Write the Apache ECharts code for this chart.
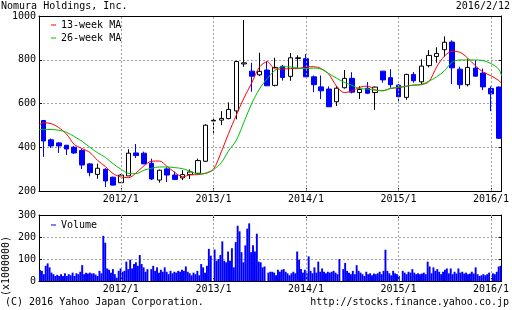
<!DOCTYPE html>
<html><head><meta charset="utf-8">
<script src="https://cdn.jsdelivr.net/npm/echarts@6/dist/echarts.min.js"></script>
<style>html,body{margin:0;padding:0;background:#fff}#c{width:512px;height:310px}</style>
</head><body><div id="c"></div>
<script>
const FONT = 'DejaVu Sans Mono';

// Monthly candles (date, open, high, low, close)
const months = ['2011-03-01','2011-04-01','2011-05-01','2011-06-01','2011-07-01','2011-08-01','2011-09-01','2011-10-01','2011-11-01','2011-12-01',
  '2012-01-01','2012-02-01','2012-03-01','2012-04-01','2012-05-01','2012-06-01','2012-07-01','2012-08-01','2012-09-01','2012-10-01','2012-11-01','2012-12-01',
  '2013-01-01','2013-02-01','2013-03-01','2013-04-01','2013-05-01','2013-06-01','2013-07-01','2013-08-01','2013-09-01','2013-10-01','2013-11-01','2013-12-01',
  '2014-01-01','2014-02-01','2014-03-01','2014-04-01','2014-05-01','2014-06-01','2014-07-01','2014-08-01','2014-09-01','2014-10-01','2014-11-01','2014-12-01',
  '2015-01-01','2015-02-01','2015-03-01','2015-04-01','2015-05-01','2015-06-01','2015-07-01','2015-08-01','2015-09-01','2015-10-01','2015-11-01','2015-12-01',
  '2016-01-01','2016-02-01'];
const opens  = [522,434,420,409,400,385,324,276,299,263, 238,269,374,373,327,250,301,273,260,275,281,336, 520,524,531,566,781,748,731,753,683,770,724,806, 805,722,676,666,608,672,715,650,670,650,748,718, 684,628,733,699,773,815,846,881,757,686,762,739, 669,675];
const highs  = [525,440,423,411,406,394,328,325,305,266, 278,391,415,380,348,298,308,289,295,299,348,505, 534,565,605,795,982,786,832,794,809,776,831,820, 826,728,728,678,679,753,743,679,698,678,748,757, 689,736,744,802,844,857,907,889,768,805,799,760, 679,679];
const lows   = [356,397,374,365,369,301,267,256,218,226, 237,269,351,324,250,238,241,250,250,255,275,333, 458,501,528,528,768,654,725,681,678,705,704,760, 722,652,620,585,589,668,646,621,643,571,695,672, 605,617,695,689,765,786,814,689,667,678,722,661, 565,438];
const closes = [429,406,406,392,374,319,284,304,246,227, 273,373,362,324,255,295,273,253,275,287,339,501, 523,532,573,792,786,725,747,681,765,719,809,809, 722,686,658,585,670,715,652,664,647,675,708,686, 631,733,704,771,820,829,880,763,686,765,725,676, 644,441];

// Moving averages
const maDates = ['2011-02-12',
  '2011-03-01','2011-04-01','2011-05-01','2011-06-01','2011-07-01','2011-08-01','2011-09-01','2011-10-01','2011-11-01','2011-12-01',
  '2012-01-01','2012-02-01','2012-03-01','2012-04-01','2012-05-01','2012-06-01','2012-07-01','2012-08-01','2012-09-01','2012-10-01','2012-11-01','2012-12-01',
  '2013-01-01','2013-02-01','2013-03-01','2013-04-01','2013-05-01','2013-06-01','2013-07-01','2013-08-01','2013-09-01','2013-10-01','2013-11-01','2013-12-01',
  '2014-01-01','2014-02-01','2014-03-01','2014-04-01','2014-05-01','2014-06-01','2014-07-01','2014-08-01','2014-09-01','2014-10-01','2014-11-01','2014-12-01',
  '2015-01-01','2015-02-01','2015-03-01','2015-04-01','2015-05-01','2015-06-01','2015-07-01','2015-08-01','2015-09-01','2015-10-01','2015-11-01','2015-12-01',
  '2016-01-01','2016-02-01','2016-02-12'];
const ma13 = [501,
  512,508,490,460,413,394,376,340,312,280,
  264,261,282,315,336,337,313,285,265,274,275,282,
  300,380,462,547,625,695,766,791,758,757,760,760,
  768,768,760,734,680,650,657,674,680,662,658,669,
  672,679,684,686,700,768,816,839,834,808,772,744,
  727,705,692];
const ma26 = [481,
  481,481,478,468,449,427,400,375,354,325,
  300,280,279,295,304,310,310,307,302,290,278,280,
  298,330,383,432,515,600,666,714,752,768,767,762,
  760,762,758,737,716,697,683,668,666,661,659,669,
  675,679,684,687,702,722,749,789,799,799,799,796,
  783,757,727];

// Volume (x1,000,000 shares), sampled left to right across the panel
const volume = [
  50,46,31,69,80,62,38,31,23,28, 23,31,23,35,23,31,26,38,23,35,
  31,42,72,31,38,34,38,34,35,29, 23,46,35,205,174,57,51,38,54,31,
  15,46,57,42,46,88,54,97,57,77, 85,69,118,77,62,42,54,0,54,69,
  46,62,38,51,42,62,42,31,46,35, 42,38,46,42,51,46,66,42,35,
  26,38,31,46,26,77,62,38,69,146, 115,0,143,92,100,118,180,92,85,134,
  92,149,62,177,251,226,131,85,162,238, 262,131,162,134,215,88,85,62,66,0,
  38,42,42,38,26,51,42,51,54,42, 35,26,35,42,35,134,97,54,38,51,
  35,112,46,35,62,38,88,42,57,42, 35,42,38,42,46,38,31,100,0,54,
  82,46,
  38,31,46,31,72,46,38,31,23,42, 31,35,26,34,31,35,42,31,46,142,
  46,35,26,46,35,31,23,0,46,38, 31,42,38,54,38,31,35,31,34,38,
  31,88,66,35,62,46,54,42,31,42, 51,57,35,57,31,42,34,57,38,42,
  34,38,31,34,42,34,62,31,23,26, 31,26,31,38,0,35,31,42,66,69];

const priceTicks = [200, 400, 600, 800, 1000];
const volTicks = [0, 100, 200, 300];
const yearTicks = ['2012-01-01','2013-01-01','2014-01-01','2015-01-01','2016-01-01'];
const xStart = '2011-02-12', xEnd = '2016-02-12';

function ts(s){ const p = s.split('-').map(Number); return new Date(p[0], p[1]-1, p[2]).getTime(); }
const yearTs = yearTicks.map(ts);
const fmt = v => { const d = new Date(v); return d.getFullYear() + '/' + (d.getMonth() + 1); };
const txt = {fontFamily: FONT, fontSize: 10, color: '#000'};
const dash = {color: '#a0a0a0', type: [2, 2], width: 1};

function tAxis(grid, pos, label) {
  return {
    type: 'value', gridIndex: grid, position: pos, min: ts(xStart), max: ts(xEnd), scale: true,
    axisLine: {show: true, onZero: false, lineStyle: {color: '#000', width: 1}},
    axisTick: {show: true, inside: true, length: 3, lineStyle: {color: '#000'}, customValues: yearTs},
    axisLabel: Object.assign({show: label, customValues: yearTs, formatter: fmt, margin: 3}, txt),
    splitLine: {show: false},
    axisPointer: {show: false}
  };
}
function vAxis(grid, pos, mn, mx, iv, label) {
  return {
    type: 'value', gridIndex: grid, position: pos, min: mn, max: mx, interval: iv,
    axisLine: {show: true, onZero: false, lineStyle: {color: '#000', width: 1}},
    axisTick: {show: true, inside: true, length: 3, lineStyle: {color: '#000'}},
    axisLabel: Object.assign({show: label, margin: 3, formatter: v => String(v)}, txt),
    splitLine: {show: pos === 'left', lineStyle: dash}
  };
}
const yearLines = {silent: true, symbol: 'none', label: {show: false}, lineStyle: dash, data: yearTs.map(v => ({xAxis: v}))};

const chart = echarts.init(document.getElementById('c'), null, {renderer: 'canvas'});
chart.setOption({
  animation: false,
  backgroundColor: '#fff',
  title: [
    {text: 'Nomura Holdings, Inc.', left: 1, top: 1, padding: 0, textStyle: Object.assign({fontWeight: 'normal'}, txt)},
    {text: '2016/2/12', right: 2, top: 1, padding: 0, textStyle: Object.assign({fontWeight: 'normal'}, txt)},
    {text: '(C) 2016 Yahoo Japan Corporation.', left: 5, top: 297, padding: 0, textStyle: Object.assign({fontWeight: 'normal'}, txt)},
    {text: 'http://stocks.finance.yahoo.co.jp', right: 3, top: 297, padding: 0, textStyle: Object.assign({fontWeight: 'normal'}, txt)}
  ],
  legend: [
    {data: ['13-week MA', '26-week MA'], left: 51, top: 20, orient: 'vertical', icon: 'rect', itemWidth: 5, itemHeight: 1, itemGap: 3, padding: 0, textStyle: txt},
    {data: ['Volume'], left: 51, top: 220, orient: 'vertical', icon: 'rect', itemWidth: 5, itemHeight: 1, padding: 0, textStyle: txt}
  ],
  grid: [
    {left: 39, right: 1, top: 16, height: 175},
    {left: 39, right: 1, top: 215, height: 66}
  ],
  xAxis: [
    tAxis(0, 'bottom', true), tAxis(0, 'top', false),
    tAxis(1, 'bottom', true), tAxis(1, 'top', false),
    {type: 'category', gridIndex: 1, data: volume.map((_, i) => i), show: false, boundaryGap: true}
  ],
  yAxis: [
    vAxis(0, 'left', priceTicks[0], priceTicks[priceTicks.length - 1], 200, true),
    vAxis(0, 'right', priceTicks[0], priceTicks[priceTicks.length - 1], 200, false),
    vAxis(1, 'left', volTicks[0], volTicks[volTicks.length - 1], 100, true),
    vAxis(1, 'right', volTicks[0], volTicks[volTicks.length - 1], 100, false)
  ],
  graphic: [
    {type: 'text', x: 1, y: 266, rotation: Math.PI / 2, style: {text: '(x1000000)', font: '10px ' + FONT, fill: '#000', textAlign: 'center', textVerticalAlign: 'top'}}
  ],
  series: [
    {
      type: 'candlestick', name: 'Price', xAxisIndex: 0, yAxisIndex: 0, barWidth: 5,
      data: months.map((m, i) => [ts(m), opens[i], closes[i], lows[i], highs[i]]),
      itemStyle: {color: '#ffffff', color0: '#0000ff', borderColor: '#000000', borderColor0: '#0000ff', borderWidth: 1},
      markLine: yearLines, z: 2
    },
    {type: 'line', name: '13-week MA', xAxisIndex: 0, yAxisIndex: 0, showSymbol: false, smooth: 0.3, color: '#ff0000', lineStyle: {width: 1, color: '#ff0000'}, data: maDates.map((d, i) => [ts(d), ma13[i]]), z: 3},
    {type: 'line', name: '26-week MA', xAxisIndex: 0, yAxisIndex: 0, showSymbol: false, smooth: 0.3, color: '#00c000', lineStyle: {width: 1, color: '#00c000'}, data: maDates.map((d, i) => [ts(d), ma26[i]]), z: 3},
    {type: 'line', name: 'vgrid', xAxisIndex: 2, yAxisIndex: 2, data: [], markLine: yearLines, silent: true},
    {type: 'bar', name: 'Volume', xAxisIndex: 4, yAxisIndex: 2, barCategoryGap: '0%', color: '#0000ff', itemStyle: {color: '#0000ff'}, data: volume, z: 3}
  ]
});
</script></body></html>
